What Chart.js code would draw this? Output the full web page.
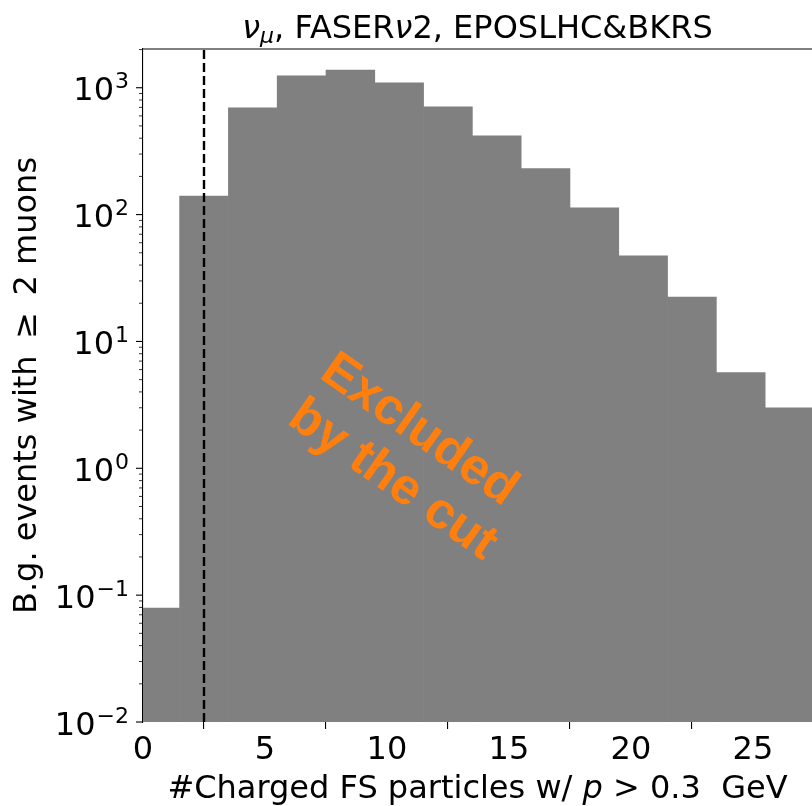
<!DOCTYPE html>
<html>
<head>
<meta charset="utf-8">
<script src="https://cdn.jsdelivr.net/npm/chart.js@4.4.1/dist/chart.umd.min.js"></script>
<style>
  html, body { margin: 0; padding: 0; background: #fff; }
  #wrap { width: 812px; height: 806px; }
</style>
</head>
<body>
<div id="wrap"><canvas id="histChart" width="812" height="806"></canvas></div>
<script>
// Histogram bins (width 2), left edges
const binLeftEdges = [-0.5, 1.5, 3.5, 5.5, 7.5, 9.5, 11.5, 13.5, 15.5, 17.5, 19.5, 21.5, 23.5, 25.5];
const binWidth = 2;
// B.g. events with >= 2 muons per bin
const bgEvents = [0.079, 140, 695, 1244, 1379, 1095, 708, 418, 230, 113, 47.3, 22.4, 5.67, 3.0];

const xTicks = [0, 5, 10, 15, 20, 25];
const yDecades = [-2, -1, 0, 1, 2, 3];
const xRange = [0, 27.42];
const yRange = [0.01, 2020];
const cutValue = 2.5;
const noteAnchor = [7.17, 5.25];   // data coords of the note's first baseline start
const noteLines = ['Excluded', 'by the cut'];

const FONT = "'DejaVu Sans', sans-serif";
const NOTE_FONT = "'Liberation Sans', Arial, sans-serif";
const BIG = 32;

const histData = binLeftEdges.map((e, i) => ({ x: e + binWidth / 2, y: [yRange[0], bgEvents[i]] }));
const cutLine = [{ x: cutValue, y: yRange[0] }, { x: cutValue, y: yRange[1] }];

// draw a row of text pieces with different styles, centred on cx
function drawRuns(ctx, runs, cx, baseY) {
    let total = 0;
    runs.forEach(r => {
        ctx.font = r.font;
        r.w = ctx.measureText(r.text).width;
        total += r.w;
    });
    let xx = cx - total / 2;
    runs.forEach(r => {
        ctx.font = r.font;
        ctx.fillText(r.text, xx, baseY + (r.dy || 0));
        xx += r.w;
    });
}

const axisDecor = {
    id: 'axisDecor',
    afterDraw(chart) {
        const { ctx, chartArea: a } = chart;
        const x = chart.scales.x, y = chart.scales.y;
        ctx.save();
        ctx.strokeStyle = '#000';
        ctx.fillStyle = '#000';

        // top spine
        ctx.lineWidth = 1.1;
        ctx.beginPath();
        ctx.moveTo(a.left, a.top);
        ctx.lineTo(a.right, a.top);
        ctx.stroke();

        // log ticks, major + minor
        yDecades.forEach(k => {
            for (let m = 1; m <= 9; m++) {
                const v = m * Math.pow(10, k);
                if (v < yRange[0] || v > yRange[1]) continue;
                const py = y.getPixelForValue(v);
                const len = m === 1 ? 7 : 4;
                ctx.lineWidth = m === 1 ? 1.1 : 0.8;
                ctx.beginPath();
                ctx.moveTo(a.left - len, py);
                ctx.lineTo(a.left, py);
                ctx.stroke();
            }
        });

        // y tick labels 10^k
        ctx.textAlign = 'left';
        ctx.textBaseline = 'alphabetic';
        const rightEdge = a.left - 14;
        yDecades.forEach(k => {
            const py = y.getPixelForValue(Math.pow(10, k));
            const exp = k < 0 ? '\u2212' + Math.abs(k) : String(k);
            ctx.font = '22px ' + FONT;
            const wExp = ctx.measureText(exp).width;
            ctx.font = BIG + 'px ' + FONT;
            const w10 = ctx.measureText('10').width;
            const base = py + 12.5;
            ctx.fillText('10', rightEdge - wExp - w10 - 1, base);
            ctx.font = '22px ' + FONT;
            ctx.fillText(exp, rightEdge - wExp, base - 12);
        });

        const cx = (a.left + a.right) / 2;
        const normal = BIG + 'px ' + FONT;
        const ital = 'oblique ' + BIG + 'px ' + FONT;

        // title
        drawRuns(ctx, [
            { text: '\u03bd', font: ital },
            { text: '\u03bc', font: 'oblique 22px ' + FONT, dy: 5 },
            { text: ', FASER', font: normal },
            { text: '\u03bd', font: ital },
            { text: '2, EPOSLHC&BKRS', font: normal }
        ], cx, 38);

        // x axis title
        drawRuns(ctx, [
            { text: '#Charged FS particles w/ ', font: normal },
            { text: 'p', font: ital },
            { text: ' > 0.3  GeV', font: normal }
        ], cx, 798);

        // y axis title
        ctx.save();
        ctx.translate(36, (a.top + a.bottom) / 2);
        ctx.rotate(-Math.PI / 2);
        ctx.textAlign = 'center';
        ctx.font = normal;
        ctx.fillText('B.g. events with \u2009\u2265\u2009 2 muons', 0, 0);
        ctx.restore();

        // note
        ctx.save();
        ctx.translate(x.getPixelForValue(noteAnchor[0]), y.getPixelForValue(noteAnchor[1]));
        ctx.rotate(35 * Math.PI / 180);
        ctx.fillStyle = '#ff7f0e';
        ctx.font = 'bold 51px ' + NOTE_FONT;
        ctx.textAlign = 'left';
        noteLines.forEach((t, i) => ctx.fillText(t, 0, i * 56));
        ctx.restore();

        ctx.restore();
    }
};

const ctx = document.getElementById('histChart').getContext('2d');
new Chart(ctx, {
    type: 'bar',
    data: {
        datasets: [
            {
                type: 'line',
                data: cutLine,
                borderColor: '#000',
                borderWidth: 2.4,
                borderDash: [9, 4],
                pointRadius: 0,
                fill: false,
                order: 0
            },
            {
                type: 'bar',
                data: histData,
                backgroundColor: '#808080',
                borderWidth: 0,
                barPercentage: 1,
                categoryPercentage: 1,
                order: 1
            }
        ]
    },
    options: {
        responsive: false,
        animation: false,
        layout: { padding: { top: 49, right: 0, left: 0, bottom: 0 } },
        plugins: {
            legend: { display: false },
            tooltip: { enabled: false },
            title: { display: false }
        },
        scales: {
            x: {
                type: 'linear',
                min: xRange[0],
                max: xRange[1],
                offset: false,
                z: 1,
                grid: { display: true, drawOnChartArea: false, drawTicks: true, tickLength: 7, color: '#000', lineWidth: 1.1 },
                border: { display: true, color: '#000', width: 1.1 },
                ticks: { font: { family: FONT, size: BIG }, color: '#000', padding: 2, maxRotation: 0, autoSkip: false },
                afterBuildTicks: s => { s.ticks = xTicks.map(v => ({ value: v })); },
                afterFit: s => { s.height = 84; }
            },
            y: {
                type: 'logarithmic',
                min: yRange[0],
                max: yRange[1],
                z: 1,
                grid: { display: false },
                border: { display: true, color: '#000', width: 1.1 },
                ticks: { display: false },
                afterFit: s => { s.width = 143; }
            }
        }
    },
    plugins: [axisDecor]
});
</script>
</body>
</html>
